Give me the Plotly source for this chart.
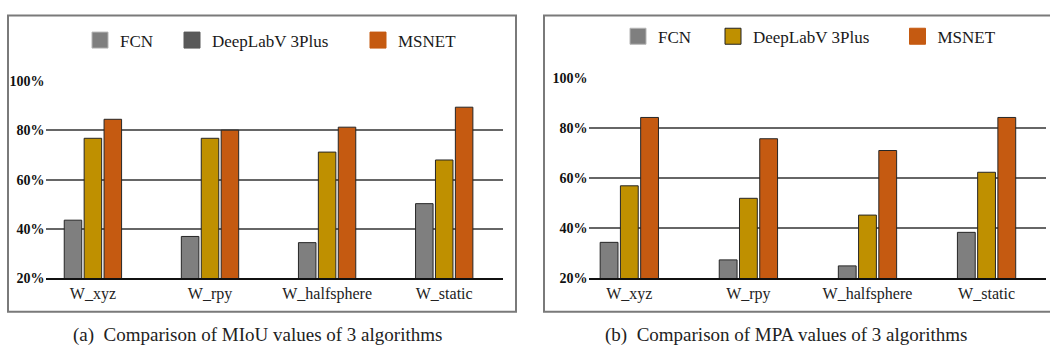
import plotly.graph_objects as go

# Scenes and methods
categories = ["W_xyz", "W_rpy", "W_halfsphere", "W_static"]
methods = ["FCN", "DeepLabV 3Plus", "MSNET"]

# Mean IoU (%) per scene
miou_fcn = [43.6, 37.0, 34.5, 50.3]
miou_deeplab = [76.8, 76.8, 71.2, 68.0]
miou_msnet = [84.5, 80.1, 81.3, 89.4]

# Mean pixel accuracy (%) per scene
mpa_fcn = [34.4, 27.4, 25.0, 38.4]
mpa_deeplab = [57.0, 52.0, 45.3, 62.4]
mpa_msnet = [84.3, 75.8, 71.1, 84.3]

y_ticks = [20, 40, 60, 80, 100]
y_tick_text = ["20%", "40%", "60%", "80%", "100%"]
captions = ["(a)\u00a0\u00a0Comparison of MIoU values of 3 algorithms",
            "(b)\u00a0\u00a0Comparison of MPA values of 3 algorithms"]

W, H = 1050, 357
SERIF = "Liberation Serif"
bar_colors = ["#7f7f7f", "#bf9000", "#c55a11"]
# legend swatches: the MIoU panel shows DeepLab in dark grey
legend_colors = [["#7f7f7f", "#595959", "#c55a11"],
                 ["#7f7f7f", "#bf9000", "#c55a11"]]
legend_lines = [["#b5b5b5", "#595959", "#c55a11"],
                ["#b5b5b5", "#222222", "#c55a11"]]


def px(x):
    return x / W


def py(y):
    return 1 - y / H


fig = go.Figure()

panels = [
    ("x", "y", [miou_fcn, miou_deeplab, miou_msnet]),
    ("x2", "y2", [mpa_fcn, mpa_deeplab, mpa_msnet]),
]
for xa, ya, series in panels:
    for name, vals, col in zip(methods, series, bar_colors):
        fig.add_trace(go.Bar(
            x=categories, y=vals, name=name, xaxis=xa, yaxis=ya,
            marker=dict(color=col, line=dict(color="#262626", width=1)),
            showlegend=False,
        ))

# legend entries, one positioned legend per item
legend_pos = [
    [(80, 35), (172, 35), (358, 35)],
    [(618, 31), (713, 31), (897.5, 31)],
]
legend_layout = {}
k = 0
for p in range(2):
    for i, name in enumerate(methods):
        k += 1
        lname = "legend" if k == 1 else f"legend{k}"
        fig.add_trace(go.Scatter(
            x=[None], y=[None], mode="markers", name=name,
            xaxis="x" if p == 0 else "x2", yaxis="y" if p == 0 else "y2",
            marker=dict(symbol="square", size=16, color=legend_colors[p][i],
                        line=dict(color=legend_lines[p][i], width=1)),
            legend=lname, showlegend=True,
        ))
        lx, ly = legend_pos[p][i]
        legend_layout[lname] = dict(
            x=px(lx), y=py(ly), xanchor="left", yanchor="middle",
            bgcolor="rgba(0,0,0,0)", borderwidth=0,
            font=dict(family=SERIF, size=17, color="#1a1a1a"),
        )

xaxis_common = dict(
    type="category", showgrid=False, ticks="", showline=True,
    linecolor="#111111", linewidth=1.5, zeroline=False,
    tickfont=dict(family=SERIF, size=16, color="#222222"),
)
yaxis_common = dict(
    range=[20, 100], tickmode="array", tickvals=y_ticks, ticktext=y_tick_text,
    showgrid=True, gridcolor="#666666", gridwidth=1.5, zeroline=False,
    showline=False, ticks="", ticklabelstandoff=0,
    tickfont=dict(family=SERIF, size=14, color="#111111", weight="bold"),
)

fig.update_layout(
    width=W, height=H,
    margin=dict(l=0, r=0, t=0, b=0),
    paper_bgcolor="white", plot_bgcolor="white",
    barmode="group", bargap=0.49, bargroupgap=0.12,
    xaxis=dict(domain=[px(45.6), px(503)], range=[-0.404, 3.502],
               anchor="y", **xaxis_common),
    yaxis=dict(domain=[py(283.3), py(77.3)], anchor="x", **yaxis_common),
    xaxis2=dict(domain=[px(588.6), px(1045.5)], range=[-0.342, 3.495],
                anchor="y2", **xaxis_common),
    yaxis2=dict(domain=[py(283.3), py(74.3)], anchor="x2", **yaxis_common),
    **legend_layout,
)

# panel frames
frame = dict(type="rect", xref="paper", yref="paper",
             line=dict(color="#7a7a7a", width=2), fillcolor="rgba(0,0,0,0)")
fig.add_shape(x0=px(8), x1=px(516), y0=py(318), y1=py(9), **frame)
fig.add_shape(x0=px(544), x1=px(1060), y0=py(318), y1=py(9), **frame)

# captions
for cx, text in zip([257, 786], captions):
    fig.add_annotation(
        x=px(cx), y=py(342), xref="paper", yref="paper",
        text=text, showarrow=False, xanchor="center", yanchor="middle",
        font=dict(family=SERIF, size=19, color="#222222"),
    )

fig.write_html("out.html")
